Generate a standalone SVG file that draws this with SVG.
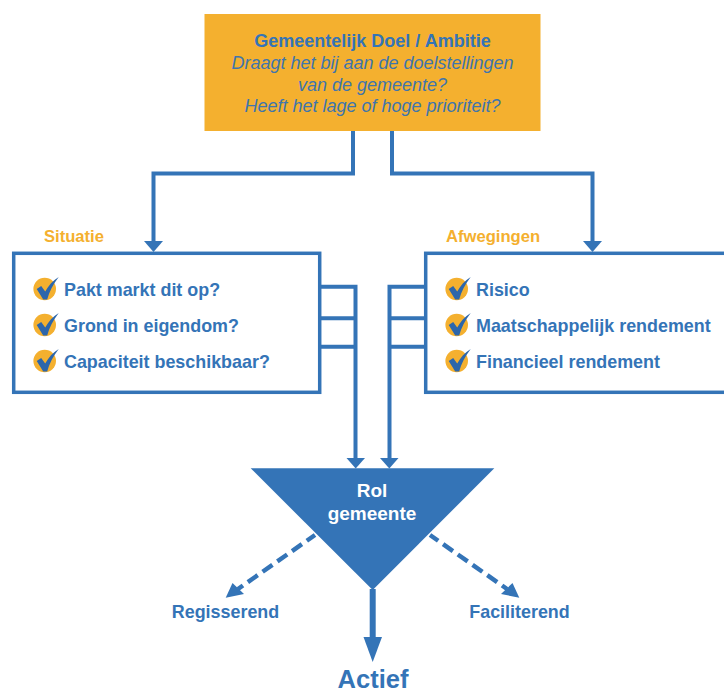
<svg xmlns="http://www.w3.org/2000/svg" width="724" height="689" viewBox="0 0 724 689">
<style>
text{font-family:"Liberation Sans",Arial,sans-serif;fill:#3474b7}
.b{font-weight:700}
.i{font-style:italic;font-size:18px;fill:#3f75ad}
.m{text-anchor:middle}
.l{font-size:17.900px;font-weight:700}
.o{fill:#f4b02f;font-size:16.600px;font-weight:700}
.c{fill:none;stroke:#3474b7;stroke-width:4}
.h{fill:#3474b7}
.box{fill:#fff;stroke:#3474b7;stroke-width:3.500}
.d{fill:none;stroke:#3474b7;stroke-width:4.500;stroke-dasharray:12 6;stroke-dashoffset:2}
</style>
<defs>
<g id="chk">
<circle cx="0" cy="0" r="11.300" fill="#f4b02f"/>
<path d="M-8,0 L-3.500,-3 L0.500,2.500 C4,-3.500 8,-8.500 14,-12 C8.500,-5 4.500,3 2.500,10.500 L-1.500,10.500 Z" fill="#2c66ab"/>
</g>
</defs>
<rect width="724" height="689" fill="#fff"/>
<g id="connectors">
<path class="c" d="M353,131V173.500H153.500V242"/>
<path class="h" d="M144,241H163L153.500,252Z"/>
<path class="c" d="M392,131V173.500H592.500V242"/>
<path class="h" d="M583,241H602L592.500,252Z"/>
<path class="c" d="M320,286.700H355.500V459M320,318.300H355.500M320,346.700H355.500"/>
<path class="h" d="M346.500,458H365L355.700,468.500Z"/>
<path class="c" d="M425,286.700H389.500V459M425,318.300H389.500M425,346.700H389.500"/>
<path class="h" d="M380,458H398.500L389.300,468.500Z"/>
<path class="d" d="M315,535L238,589"/>
<path class="h" d="M225.700,597.700L232.500,583L244,594Z"/>
<path class="d" d="M430,535L507,589"/>
<path class="h" d="M519.300,597.700L512.500,583L501,594Z"/>
<path class="c" d="M372.700,589V639" style="stroke-width:6"/>
<path class="h" d="M363.500,637H382L372.700,662Z"/>
</g>
<g id="doel">
<rect x="204.500" y="14" width="336" height="117" fill="#f4b02f"/>
<text class="b m" x="372.500" y="47" font-size="18">Gemeentelijk Doel / Ambitie</text>
<text class="i m" x="372.500" y="69">Draagt het bij aan de doelstellingen</text>
<text class="i m" x="372.500" y="90.500">van de gemeente?</text>
<text class="i m" x="372.500" y="111.500">Heeft het lage of hoge prioriteit?</text>
</g>
<g id="situatie">
<text class="o" x="44" y="242">Situatie</text>
<rect class="box" x="13.700" y="253.300" width="306" height="139"/>
<use href="#chk" x="44.700" y="289"/>
<text class="l" x="64" y="296">Pakt markt dit op?</text>
<use href="#chk" x="44.700" y="325"/>
<text class="l" x="64" y="332">Grond in eigendom?</text>
<use href="#chk" x="44.700" y="361"/>
<text class="l" x="64" y="368">Capaciteit beschikbaar?</text>
</g>
<g id="afwegingen">
<text class="o" x="446" y="242">Afwegingen</text>
<rect class="box" x="425.700" y="253.300" width="320" height="139"/>
<use href="#chk" x="456.700" y="289"/>
<text class="l" x="476" y="296">Risico</text>
<use href="#chk" x="456.700" y="325"/>
<text class="l" x="476" y="332">Maatschappelijk rendement</text>
<use href="#chk" x="456.700" y="361"/>
<text class="l" x="476" y="368">Financieel rendement</text>
</g>
<g id="rol">
<path class="h" d="M250.700,468.300H494.300L372.700,590Z"/>
<text class="b m" x="372" y="496.500" font-size="19" style="fill:#fff">Rol</text>
<text class="b m" x="372" y="519.500" font-size="19" style="fill:#fff">gemeente</text>
</g>
<g id="regisserend"><text class="l m" x="225.500" y="618">Regisserend</text></g>
<g id="faciliterend"><text class="l m" x="519.500" y="618">Faciliterend</text></g>
<g id="actief"><text class="b m" x="373" y="688" font-size="25.500">Actief</text></g>
</svg>
